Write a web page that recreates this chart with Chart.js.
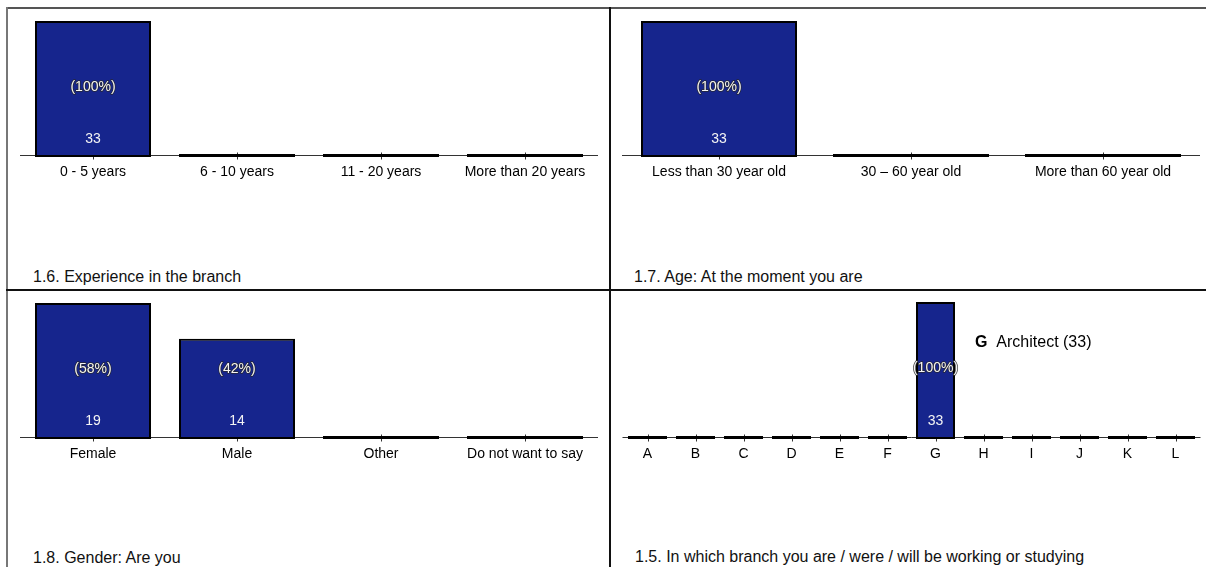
<!DOCTYPE html>
<html>
<head>
<meta charset="utf-8">
<script src="https://cdn.jsdelivr.net/npm/chart.js@4.4.1/dist/chart.umd.min.js"></script>
<style>
  body { margin: 0; background: #fff; font-family: "Liberation Sans", Arial, sans-serif; }
  #page { position: relative; width: 1206px; height: 567px; overflow: hidden; }
  .rule { position: absolute; }
  canvas { position: absolute; }
  .title { position: absolute; font-size: 16px; color: #111; white-space: nowrap; line-height: 18px; }
</style>
</head>
<body>
<div id="page">
  <div class="rule" style="left:6px;top:7px;width:1200px;height:2px;background:#555"></div>
  <div class="rule" style="left:6px;top:7px;width:2px;height:560px;background:#777"></div>
  <div class="rule" style="left:609px;top:7px;width:2px;height:560px;background:#111"></div>
  <div class="rule" style="left:6px;top:289px;width:1200px;height:2px;background:#111"></div>

  <canvas id="experience" width="602" height="200" style="left:8px;top:9px"></canvas>
  <canvas id="age" width="595" height="200" style="left:611px;top:9px"></canvas>
  <canvas id="gender" width="602" height="200" style="left:8px;top:291px"></canvas>
  <canvas id="branch" width="595" height="200" style="left:611px;top:291px"></canvas>

  <div class="title" style="left:33px;top:268px">1.6. Experience in the branch</div>
  <div class="title" style="left:634px;top:268px">1.7. Age: At the moment you are</div>
  <div class="title" style="left:33px;top:549px">1.8. Gender: Are you</div>
  <div class="title" style="left:635px;top:548px">1.5. In which branch you are / were / will be working or studying</div>
</div>

<script>
// answers per question
const experienceLabels = ['0 - 5 years', '6 - 10 years', '11 - 20 years', 'More than 20 years'];
const experienceCounts = [33, 0, 0, 0];

const ageLabels = ['Less than 30 year old', '30 \u2013 60 year old', 'More than 60 year old'];
const ageCounts = [33, 0, 0];

const genderLabels = ['Female', 'Male', 'Other', 'Do not want to say'];
const genderCounts = [19, 14, 0, 0];

const branchLabels = ['A', 'B', 'C', 'D', 'E', 'F', 'G', 'H', 'I', 'J', 'K', 'L'];
const branchCounts = [0, 0, 0, 0, 0, 0, 33, 0, 0, 0, 0, 0];
const branchNames = ['', '', '', '', '', '', 'Architect', '', '', '', '', ''];

const FONT = 'Liberation Sans, Arial, sans-serif';
const BAR_BLUE = '#16258d';
const TICK_PAD = 7;
const AXIS_H = 14 * 1.2 + 2 * TICK_PAD;
const AREA_BOTTOM = 148;

// axis line with small crossing ticks, drawn under the bars;
// sits in the middle of the thin zero-height bars
const axisLine = {
    id: 'axisLine',
    beforeDatasetsDraw(chart) {
        let ctx = chart.ctx;
        let area = chart.chartArea;
        let xs = chart.scales.x;
        let y = Math.round(area.bottom) - 1.5;
        ctx.save();
        ctx.strokeStyle = '#333';
        ctx.lineWidth = 1;
        ctx.beginPath();
        ctx.moveTo(area.left - 1, y);
        ctx.lineTo(area.right + 1, y);
        for (let i = 0; i < xs.ticks.length; i++) {
            let x = Math.round(xs.getPixelForTick(i)) + 0.5;
            ctx.moveTo(x, y - 3);
            ctx.lineTo(x, y + 4);
        }
        ctx.stroke();
        ctx.restore();
    }
};

// percentage and count written inside each bar, plus an optional note
const barLabels = {
    id: 'barLabels',
    afterDatasetsDraw(chart, args, opts) {
        let ctx = chart.ctx;
        let area = chart.chartArea;
        let values = chart.data.datasets[0].data;
        let total = values.reduce((a, b) => a + b, 0);
        let bars = chart.getDatasetMeta(0).data;
        let midY = (area.top + area.bottom) / 2 - 2;

        ctx.save();
        ctx.textAlign = 'center';
        ctx.textBaseline = 'middle';
        ctx.font = '14px ' + FONT;
        ctx.lineJoin = 'round';
        for (let i = 0; i < bars.length; i++) {
            if (!values[i]) continue;
            let bar = bars[i];
            let pct = '(' + Math.round(values[i] / total * 100) + '%)';
            ctx.strokeStyle = 'rgba(40,40,40,0.9)';
            ctx.lineWidth = 1.5;
            ctx.strokeText(pct, bar.x, midY);
            ctx.fillStyle = '#f4f4f4';
            ctx.fillText(pct, bar.x, midY);
            ctx.fillText(String(values[i]), bar.x, area.bottom - 18);

            if (opts.names && opts.names[i]) {
                let x = bar.x + bar.width / 2 + 20;
                let y = area.top + 41;
                let key = chart.data.labels[i];
                ctx.textAlign = 'left';
                ctx.fillStyle = '#000';
                ctx.font = 'bold 16px ' + FONT;
                ctx.fillText(key, x, y);
                x += ctx.measureText(key + '  ').width;
                ctx.font = '16px ' + FONT;
                ctx.fillText(opts.names[i] + ' (' + values[i] + ')', x, y);
                ctx.textAlign = 'center';
                ctx.font = '14px ' + FONT;
            }
        }
        ctx.restore();
    }
};

function makeChart(id, labels, counts, pad, barPct, names) {
    let canvas = document.getElementById(id);
    return new Chart(canvas, {
        type: 'bar',
        data: {
            labels: labels,
            datasets: [{
                data: counts,
                backgroundColor: BAR_BLUE,
                borderColor: '#000',
                borderWidth: 2,
                borderSkipped: false,
                minBarLength: 3,
                categoryPercentage: 1,
                barPercentage: barPct
            }]
        },
        options: {
            responsive: false,
            animation: false,
            layout: {
                padding: {
                    left: pad.left,
                    right: pad.right,
                    top: pad.top,
                    bottom: canvas.height - AREA_BOTTOM - AXIS_H
                }
            },
            scales: {
                x: {
                    grid: { display: false, drawTicks: false },
                    border: { display: false },
                    ticks: {
                        color: '#000',
                        padding: TICK_PAD,
                        maxRotation: 0,
                        autoSkip: false,
                        font: { family: FONT, size: 14 }
                    }
                },
                y: {
                    display: false,
                    min: 0,
                    max: Math.max(...counts)
                }
            },
            plugins: {
                legend: { display: false },
                tooltip: { enabled: false },
                barLabels: { names: names }
            }
        },
        plugins: [axisLine, barLabels]
    });
}

makeChart('experience', experienceLabels, experienceCounts, { left: 13, right: 13, top: 12 }, 116 / 144);
makeChart('age', ageLabels, ageCounts, { left: 12, right: 7, top: 12 }, 156 / 192);
makeChart('gender', genderLabels, genderCounts, { left: 13, right: 13, top: 12 }, 116 / 144);
makeChart('branch', branchLabels, branchCounts, { left: 12.5, right: 6.5, top: 11 }, 39 / 48, branchNames);
</script>
</body>
</html>
